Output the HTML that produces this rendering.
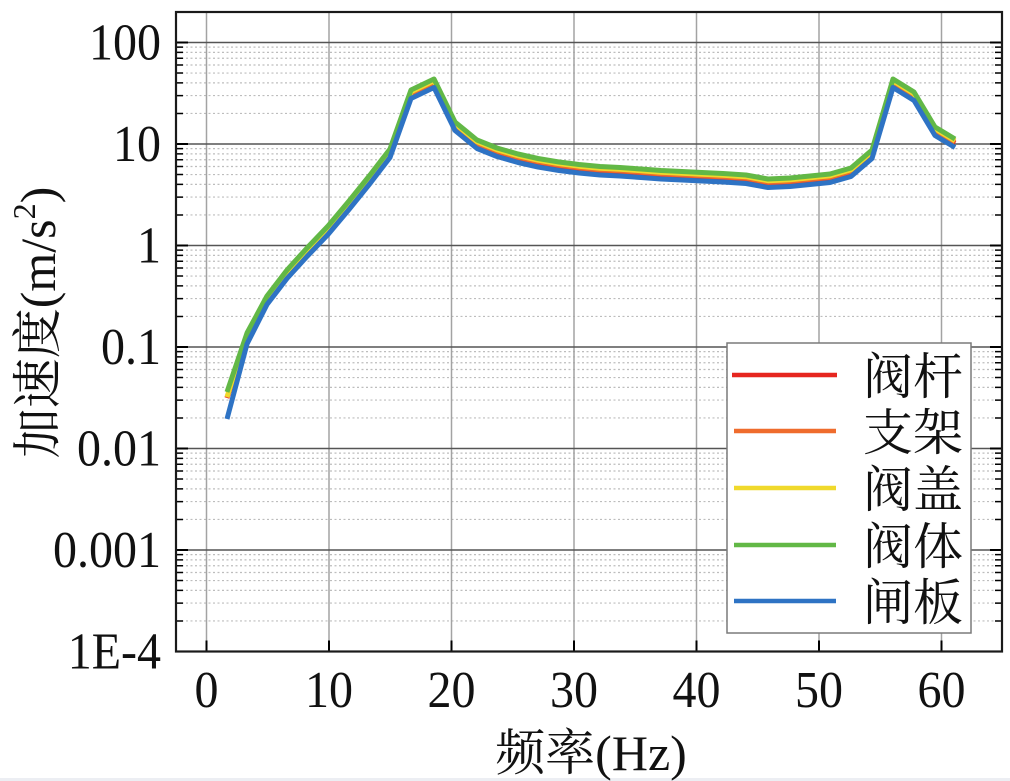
<!DOCTYPE html>
<html>
<head>
<meta charset="utf-8">
<style>
html,body{margin:0;padding:0;background:#ffffff;width:1010px;height:781px;overflow:hidden}
svg{display:block}
</style>
</head>
<body>
<svg width="1010" height="781" viewBox="0 0 1010 781" xmlns="http://www.w3.org/2000/svg">
<rect x="0" y="0" width="1010" height="781" fill="#ffffff"/>
<rect x="0" y="778" width="1010" height="3" fill="#eceef3"/>

<!-- minor horizontal dotted grid -->
<path fill="none" stroke="#bdbdbd" stroke-width="1.2" stroke-dasharray="2,2.5" d="
M177 113.45H1001 M177 95.57H1001 M177 82.89H1001 M177 73.05H1001 M177 65.02H1001 M177 58.22H1001 M177 52.34H1001 M177 47.14H1001
M177 214.95H1001 M177 197.07H1001 M177 184.39H1001 M177 174.55H1001 M177 166.52H1001 M177 159.72H1001 M177 153.84H1001 M177 148.64H1001
M177 316.45H1001 M177 298.57H1001 M177 285.89H1001 M177 276.05H1001 M177 268.02H1001 M177 261.22H1001 M177 255.34H1001 M177 250.14H1001
M177 417.95H1001 M177 400.07H1001 M177 387.39H1001 M177 377.55H1001 M177 369.52H1001 M177 362.72H1001 M177 356.84H1001 M177 351.64H1001
M177 519.45H1001 M177 501.57H1001 M177 488.89H1001 M177 479.05H1001 M177 471.02H1001 M177 464.22H1001 M177 458.34H1001 M177 453.14H1001
M177 620.95H1001 M177 603.07H1001 M177 590.39H1001 M177 580.55H1001 M177 572.52H1001 M177 565.72H1001 M177 559.84H1001 M177 554.64H1001"/>

<!-- vertical major grid -->
<path fill="none" stroke="#a3a3a3" stroke-width="1.5" d="M206.5 12V651.5 M329 12V651.5 M451.5 12V651.5 M574 12V651.5 M696.5 12V651.5 M819 12V651.5 M941.5 12V651.5"/>

<!-- horizontal decade grid -->
<path fill="none" stroke="#555555" stroke-width="1.5" d="M176 42.5H1002 M176 144H1002 M176 245.5H1002 M176 347H1002 M176 448.5H1002 M176 550H1002"/>

<!-- minor ticks left & right -->
<path fill="none" stroke="#000" stroke-width="1.5" d="
M176 113.45h7 M176 95.57h7 M176 82.89h7 M176 73.05h7 M176 65.02h7 M176 58.22h7 M176 52.34h7 M176 47.14h7
M176 214.95h7 M176 197.07h7 M176 184.39h7 M176 174.55h7 M176 166.52h7 M176 159.72h7 M176 153.84h7 M176 148.64h7
M176 316.45h7 M176 298.57h7 M176 285.89h7 M176 276.05h7 M176 268.02h7 M176 261.22h7 M176 255.34h7 M176 250.14h7
M176 417.95h7 M176 400.07h7 M176 387.39h7 M176 377.55h7 M176 369.52h7 M176 362.72h7 M176 356.84h7 M176 351.64h7
M176 519.45h7 M176 501.57h7 M176 488.89h7 M176 479.05h7 M176 471.02h7 M176 464.22h7 M176 458.34h7 M176 453.14h7
M176 620.95h7 M176 603.07h7 M176 590.39h7 M176 580.55h7 M176 572.52h7 M176 565.72h7 M176 559.84h7 M176 554.64h7
M1002 113.45h-7 M1002 95.57h-7 M1002 82.89h-7 M1002 73.05h-7 M1002 65.02h-7 M1002 58.22h-7 M1002 52.34h-7 M1002 47.14h-7
M1002 214.95h-7 M1002 197.07h-7 M1002 184.39h-7 M1002 174.55h-7 M1002 166.52h-7 M1002 159.72h-7 M1002 153.84h-7 M1002 148.64h-7
M1002 316.45h-7 M1002 298.57h-7 M1002 285.89h-7 M1002 276.05h-7 M1002 268.02h-7 M1002 261.22h-7 M1002 255.34h-7 M1002 250.14h-7
M1002 417.95h-7 M1002 400.07h-7 M1002 387.39h-7 M1002 377.55h-7 M1002 369.52h-7 M1002 362.72h-7 M1002 356.84h-7 M1002 351.64h-7
M1002 519.45h-7 M1002 501.57h-7 M1002 488.89h-7 M1002 479.05h-7 M1002 471.02h-7 M1002 464.22h-7 M1002 458.34h-7 M1002 453.14h-7
M1002 620.95h-7 M1002 603.07h-7 M1002 590.39h-7 M1002 580.55h-7 M1002 572.52h-7 M1002 565.72h-7 M1002 559.84h-7 M1002 554.64h-7"/>
<!-- major ticks -->
<path fill="none" stroke="#000" stroke-width="2" d="
M176 42.5h12 M176 144h12 M176 245.5h12 M176 347h12 M176 448.5h12 M176 550h12
M1002 42.5h-12 M1002 144h-12 M1002 245.5h-12 M1002 347h-12 M1002 448.5h-12 M1002 550h-12
M206.5 651.5v-11 M329 651.5v-11 M451.5 651.5v-11 M574 651.5v-11 M696.5 651.5v-11 M819 651.5v-11 M941.5 651.5v-11"/>

<!-- series -->
<g fill="none" stroke-width="5" stroke-linejoin="round" stroke-linecap="butt">
<polyline stroke="#e6261f" points="227,398 247,338 267,300.5 287,274.5 307,252.5 328,230.5 349,205.5 370,179.5 390,153.5 411,94.5 434,83.5 455,126.5 477,144.5 497,152.5 518,158.5 538,163 559,166.5 579,169 600,171 620,172 641,173.5 661,175 682,176 702,177 723,178 746,179.5 768,183.5 790,182.5 810,180.5 830,178.5 851,172.5 872,154.5 893,83.5 914,96.5 935,131.5 955,143.5"/>
<polyline stroke="#ef6c2d" points="227,397.5 247,336.5 267,299.2 287,273.2 307,251.2 328,229.2 349,204.2 370,178.2 390,152.2 411,93.2 434,82.2 455,125.2 477,143.2 497,151.2 518,157.2 538,161.7 559,165.2 579,167.7 600,169.7 620,170.7 641,172.2 661,173.7 682,174.7 702,175.7 723,176.7 746,178.2 768,182.2 790,181.2 810,179.2 830,177.2 851,171.2 872,153.2 893,82.2 914,95.2 935,130.2 955,142.2"/>
<polyline stroke="#f0d92c" points="227,397 247,335 267,297.7 287,271.7 307,249.7 328,227.7 349,202.7 370,176.7 390,150.7 411,91.7 434,80.7 455,123.7 477,141.7 497,149.7 518,155.7 538,160.2 559,163.7 579,166.2 600,168.2 620,169.2 641,170.7 661,172.2 682,173.2 702,174.2 723,175.2 746,176.7 768,180.7 790,179.7 810,177.7 830,175.7 851,169.7 872,151.7 893,80.7 914,93.7 935,128.7 955,140.7"/>
<polyline stroke="#62b846" points="227,392 247,333 267,296 287,270 307,248 328,226 349,201 370,175 390,149 411,90 434,79 455,122 477,140 497,148 518,154 538,158.5 559,162 579,164.5 600,166.5 620,167.5 641,169 661,170.5 682,171.5 702,172.5 723,173.5 746,175 768,179 790,178 810,176 830,174 851,168 872,150 893,79 914,92 935,127 955,139"/>
<polyline stroke="#2e73c4" points="227,419 247,344 267,304.5 287,278.5 307,256.5 328,234.5 349,209.5 370,183.5 390,157.5 411,98.5 434,87.5 455,130.5 477,148.5 497,156.5 518,162.5 538,167 559,170.5 579,173 600,175 620,176 641,177.5 661,179 682,180 702,181 723,182 746,183.5 768,187.5 790,186.5 810,184.5 830,182.5 851,176.5 872,158.5 893,87.5 914,100.5 935,135.5 955,147.5"/>
</g>

<!-- axes frame -->
<rect x="176" y="12" width="826" height="639.5" fill="none" stroke="#1a1a1a" stroke-width="2.2"/>

<!-- legend -->
<rect x="727" y="343" width="244" height="290" fill="#ffffff" stroke="#7a7a7a" stroke-width="1.5"/>
<g stroke-width="4.5" fill="none">
<line x1="732" y1="375" x2="837" y2="375" stroke="#e6261f"/>
<line x1="734" y1="431" x2="836" y2="431" stroke="#ef6c2d"/>
<line x1="734" y1="488" x2="836" y2="488" stroke="#f0d92c"/>
<line x1="734" y1="545" x2="836" y2="545" stroke="#62b846"/>
<line x1="734" y1="601" x2="836" y2="601" stroke="#2e73c4"/>
</g>
<g font-family="'Liberation Serif','Noto Serif CJK SC','Noto Sans CJK SC',serif" font-size="50" fill="#111">
<text x="863" y="394">阀杆</text>
<text x="863" y="450">支架</text>
<text x="863" y="507">阀盖</text>
<text x="863" y="564">阀体</text>
<text x="863" y="620">闸板</text>
</g>

<!-- y tick labels -->
<g font-family="'Liberation Serif',serif" font-size="48" fill="#111" text-anchor="end">
<text transform="translate(161,59.5) scale(1,1.08)">100</text>
<text transform="translate(161,161) scale(1,1.08)">10</text>
<text transform="translate(161,262.5) scale(1,1.08)">1</text>
<text transform="translate(161,364) scale(1,1.08)">0.1</text>
<text transform="translate(161,465.5) scale(1,1.08)">0.01</text>
<text transform="translate(161,567) scale(1,1.08)">0.001</text>
<text transform="translate(161,668.5) scale(1,1.08)">1E-4</text>
</g>

<!-- x tick labels -->
<g font-family="'Liberation Serif',serif" font-size="48" fill="#111" text-anchor="middle">
<text transform="translate(206.5,707) scale(1,1.08)">0</text>
<text transform="translate(329,707) scale(1,1.08)">10</text>
<text transform="translate(451.5,707) scale(1,1.08)">20</text>
<text transform="translate(574,707) scale(1,1.08)">30</text>
<text transform="translate(696.5,707) scale(1,1.08)">40</text>
<text transform="translate(819,707) scale(1,1.08)">50</text>
<text transform="translate(941.5,707) scale(1,1.08)">60</text>
</g>

<!-- axis titles -->
<text x="591" y="770" text-anchor="middle" font-family="'Liberation Serif','Noto Serif CJK SC',serif" font-size="50" fill="#111">频率(Hz)</text>
<text transform="translate(55,322.5) rotate(-90)" text-anchor="middle" font-family="'Liberation Serif','Noto Serif CJK SC',serif" font-size="50" fill="#111">加速度(m/s<tspan font-size="32" dy="-20">2</tspan><tspan dy="20">)</tspan></text>
</svg>
</body>
</html>
